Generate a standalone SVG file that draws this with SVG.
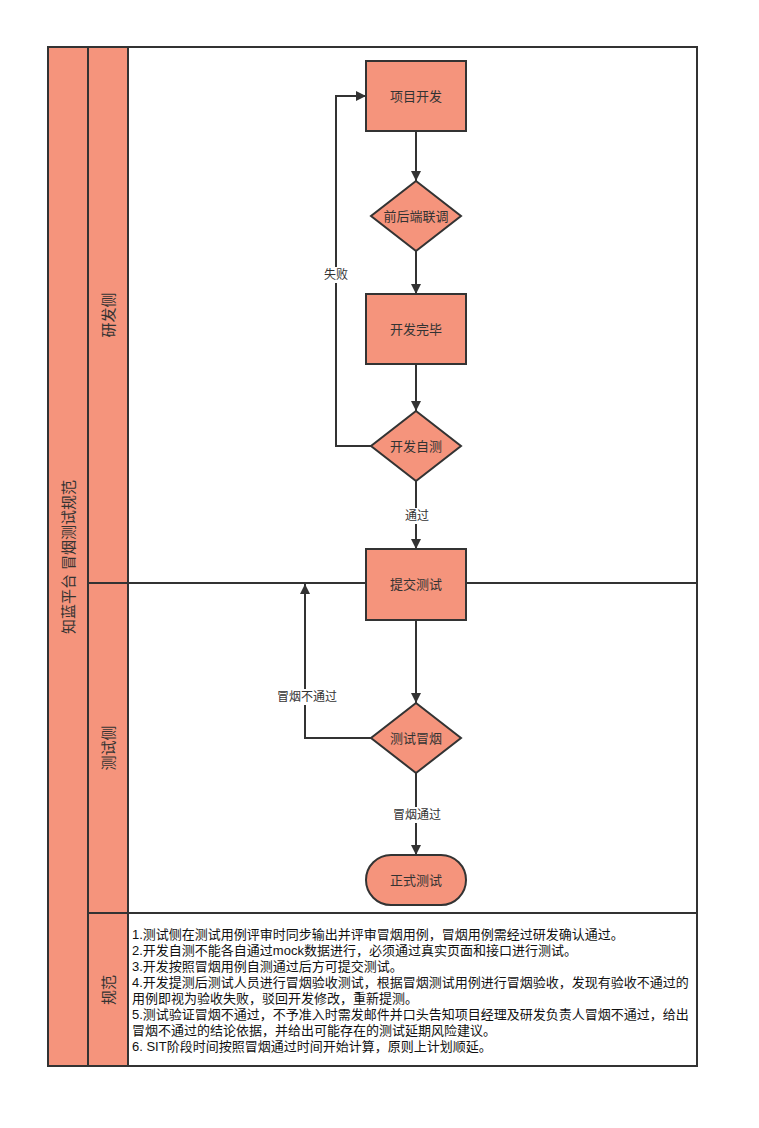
<svg xmlns="http://www.w3.org/2000/svg" width="759" height="1128" viewBox="0 0 759 1128">
<style>
.sh{fill:#F5947C;stroke:#333;stroke-width:2}
.ln{fill:none;stroke:#333;stroke-width:2}
.t{font-family:"Liberation Sans","Noto Sans CJK SC",sans-serif;fill:#333;text-anchor:middle;dominant-baseline:central}
.n{font-size:13px}
.e{font-size:12px}
.lane{font-size:15px}
.body{font-family:"Liberation Sans","Noto Sans CJK SC",sans-serif;fill:#111;font-size:13px}
</style>
<defs>
<marker id="ah" viewBox="0 0 10 10" refX="10" refY="5" markerWidth="10" markerHeight="10" markerUnits="userSpaceOnUse" orient="auto">
<path d="M0,0 L10,5 L0,10 z" fill="#333"/>
</marker>
</defs>
<rect width="759" height="1128" fill="#fff"/>
<g id="pool">
<rect x="48" y="47" width="649" height="1019" fill="#fff" stroke="#333" stroke-width="2"/>
<rect class="sh" x="48" y="47" width="40" height="1019"/>
<text class="t" font-size="15" transform="translate(68,557) rotate(-90)">知蓝平台 冒烟测试规范</text>
</g>
<g id="lane-dev">
<rect class="sh" x="88" y="47" width="40" height="536"/>
<text class="t lane" transform="translate(108,315) rotate(-90)">研发侧</text>
</g>
<g id="lane-test">
<rect class="sh" x="88" y="583" width="40" height="330"/>
<text class="t lane" transform="translate(108,748) rotate(-90)">测试侧</text>
<line class="ln" x1="128" y1="583" x2="697" y2="583"/>
</g>
<g id="lane-rule">
<rect class="sh" x="88" y="913" width="40" height="153"/>
<text class="t lane" transform="translate(108,990) rotate(-90)">规范</text>
<line class="ln" x1="128" y1="913" x2="697" y2="913"/>
<text class="body" x="132" y="939">1.测试侧在测试用例评审时同步输出并评审冒烟用例，冒烟用例需经过研发确认通过。</text>
<text class="body" x="132" y="955">2.开发自测不能各自通过mock数据进行，必须通过真实页面和接口进行测试。</text>
<text class="body" x="132" y="971">3.开发按照冒烟用例自测通过后方可提交测试。</text>
<text class="body" x="132" y="987">4.开发提测后测试人员进行冒烟验收测试，根据冒烟测试用例进行冒烟验收，发现有验收不通过的</text>
<text class="body" x="132" y="1003">用例即视为验收失败，驳回开发修改，重新提测。</text>
<text class="body" x="132" y="1019">5.测试验证冒烟不通过，不予准入时需发邮件并口头告知项目经理及研发负责人冒烟不通过，给出</text>
<text class="body" x="132" y="1035">冒烟不通过的结论依据，并给出可能存在的测试延期风险建议。</text>
<text class="body" x="132" y="1051">6. SIT阶段时间按照冒烟通过时间开始计算，原则上计划顺延。</text>
</g>
<g id="connectors">
<line class="ln" x1="416" y1="131" x2="416" y2="181" marker-end="url(#ah)"/>
<line class="ln" x1="416" y1="251" x2="416" y2="294" marker-end="url(#ah)"/>
<line class="ln" x1="416" y1="364" x2="416" y2="411" marker-end="url(#ah)"/>
<line class="ln" x1="416" y1="481" x2="416" y2="549" marker-end="url(#ah)"/>
<polyline class="ln" points="371,446 336,446 336,96 366,96" marker-end="url(#ah)"/>
<line class="ln" x1="416" y1="620" x2="416" y2="703" marker-end="url(#ah)"/>
<polyline class="ln" points="371,738 305,738 305,584" marker-end="url(#ah)"/>
<line class="ln" x1="416" y1="773" x2="416" y2="855" marker-end="url(#ah)"/>
<rect x="400" y="508" width="34" height="16" fill="#fff"/>
<text class="t e" x="417" y="516">通过</text>
<rect x="321" y="267" width="30" height="16" fill="#fff"/>
<text class="t e" x="336" y="275">失败</text>
<rect x="274" y="689" width="66" height="16" fill="#fff"/>
<text class="t e" x="307" y="697">冒烟不通过</text>
<rect x="390" y="807" width="54" height="16" fill="#fff"/>
<text class="t e" x="417" y="815">冒烟通过</text>
</g>
<g id="n-xmkf">
<rect class="sh" x="366" y="61" width="100" height="70"/>
<text class="t n" x="416" y="96">项目开发</text>
</g>
<g id="n-qhdlt">
<polygon class="sh" points="416,181 461,216 416,251 371,216"/>
<text class="t n" x="416" y="216">前后端联调</text>
</g>
<g id="n-kfwb">
<rect class="sh" x="366" y="294" width="100" height="70"/>
<text class="t n" x="416" y="329">开发完毕</text>
</g>
<g id="n-kfzc">
<polygon class="sh" points="416,411 461,446 416,481 371,446"/>
<text class="t n" x="416" y="446">开发自测</text>
</g>
<g id="n-tjcs">
<rect class="sh" x="366" y="549" width="100" height="71"/>
<text class="t n" x="416" y="584">提交测试</text>
</g>
<g id="n-csmy">
<polygon class="sh" points="416,703 461,738 416,773 371,738"/>
<text class="t n" x="416" y="738">测试冒烟</text>
</g>
<g id="n-zscs">
<rect class="sh" x="366" y="855" width="100" height="50" rx="25" ry="25"/>
<text class="t n" x="416" y="880">正式测试</text>
</g>
</svg>
